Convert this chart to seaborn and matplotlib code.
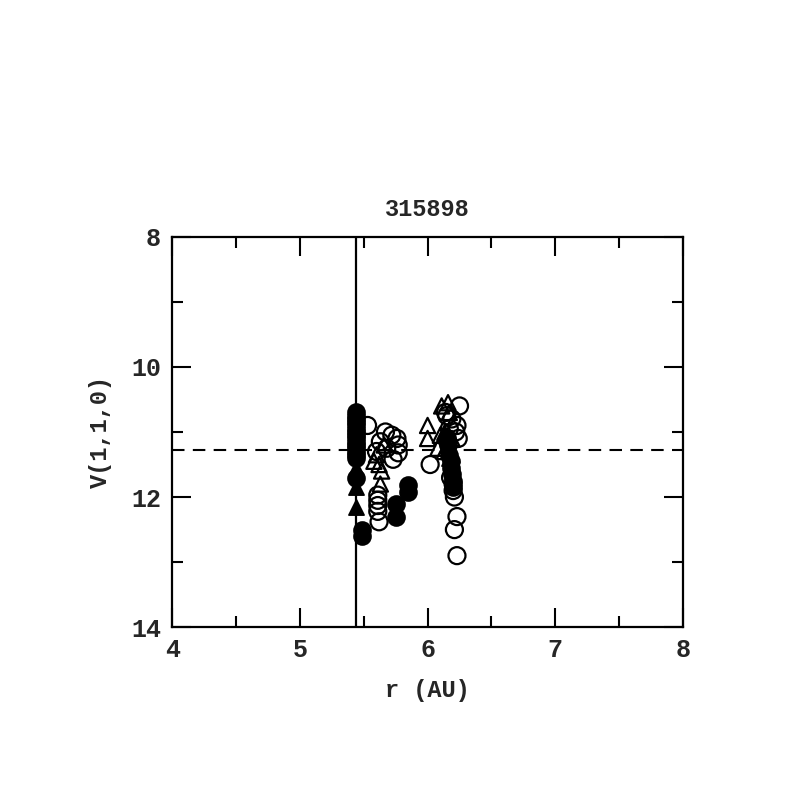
import numpy as np
import pandas as pd
import matplotlib.pyplot as plt
import seaborn as sns

# === Data ===
title = "315898"
r_line = 5.44      # vertical reference line (AU)
v_mean = 11.28     # horizontal dashed line

filled_circ_r = [5.44, 5.44, 5.44, 5.44, 5.44, 5.44, 5.44, 5.44, 5.44, 5.44, 5.44, 5.44, 5.44, 5.44,
                 5.44, 5.44, 5.49, 5.49, 5.75, 5.75, 5.85, 5.85,
                 6.15, 6.16, 6.17, 6.18, 6.18, 6.19, 6.20, 6.20]
filled_circ_v = [10.70, 10.75, 10.80, 10.85, 10.90, 10.95, 11.00, 11.05, 11.10, 11.15, 11.20, 11.25, 11.30, 11.35,
                 11.40, 11.70, 12.50, 12.60, 12.10, 12.30, 11.82, 11.92,
                 11.10, 11.20, 11.35, 11.45, 11.55, 11.65, 11.75, 11.85]

filled_tri_r = [5.44, 5.44, 5.44, 6.13, 6.15, 6.17, 6.19]
filled_tri_v = [11.55, 11.85, 12.15, 11.00, 11.20, 11.40, 11.60]

open_circ_r = [5.53, 5.67, 5.72, 5.76, 5.77, 5.77, 5.73, 5.63, 5.60, 5.68,
               5.61, 5.61, 5.61, 5.61, 5.62,
               6.02, 6.14, 6.25, 6.23, 6.22, 6.24, 6.19, 6.15, 6.17,
               6.18, 6.20, 6.20, 6.21, 6.23, 6.21, 6.23]
open_circ_v = [10.90, 11.00, 11.05, 11.10, 11.20, 11.32, 11.42, 11.15, 11.30, 11.25,
               11.97, 12.05, 12.13, 12.22, 12.38,
               11.50, 10.70, 10.60, 10.90, 11.00, 11.10, 10.80, 10.75, 10.95,
               11.70, 11.80, 11.90, 12.00, 12.30, 12.50, 12.90]

open_tri_r = [5.58, 5.60, 5.62, 5.64, 5.63, 5.66,
              6.00, 6.00, 6.10, 6.08, 6.11, 6.16, 6.17, 6.13, 6.19, 6.19]
open_tri_v = [11.45, 11.35, 11.50, 11.60, 11.80, 11.20,
              10.90, 11.10, 11.05, 11.25, 10.60, 10.55, 10.70, 11.30, 11.35, 11.10]

# === Style ===
sns.set_style("ticks")
plt.rcParams['font.family'] = ['Liberation Mono', 'DejaVu Sans']
plt.rcParams['font.weight'] = 'bold'

fig = plt.figure(figsize=(7.97, 7.97), dpi=100)
ax = fig.add_axes([0.216, 0.213, 0.641, 0.490])

ms = 150
sns.scatterplot(x=filled_circ_r, y=filled_circ_v, marker="o", s=ms, color="black",
                edgecolor="black", linewidth=1.2, ax=ax)
sns.scatterplot(x=filled_tri_r, y=filled_tri_v, marker="^", s=ms * 0.8, color="black",
                edgecolor="black", linewidth=1.2, ax=ax)
sns.scatterplot(x=open_circ_r, y=open_circ_v, marker="o", s=ms, facecolor="none",
                edgecolor="black", linewidth=1.6, ax=ax)
sns.scatterplot(x=open_tri_r, y=open_tri_v, marker="^", s=ms * 0.8, facecolor="none",
                edgecolor="black", linewidth=1.6, ax=ax)

ax.axvline(r_line, color="black", lw=1.6)
ax.axhline(v_mean, color="black", lw=1.5, ls=(0, (6, 4)))

ax.set_xlim(4, 8)
ax.set_ylim(14, 8)
ax.set_xticks([4, 5, 6, 7, 8])
ax.set_xticks([4.5, 5.5, 6.5, 7.5], minor=True)
ax.set_yticks([8, 10, 12, 14])
ax.set_yticks([9, 11, 13], minor=True)

ax.tick_params(which="both", direction="in", top=True, right=True, width=1.5, color="black",
               labelsize=18, pad=8)
ax.tick_params(which="major", length=14)
ax.tick_params(which="minor", length=8)
for sp in ax.spines.values():
    sp.set_linewidth(1.6)
    sp.set_color("black")

ax.set_xlabel("r (AU)", fontsize=17, fontweight="bold", labelpad=12)
ax.set_ylabel("V(1,1,0)", fontsize=17, fontweight="bold", labelpad=14)
ax.set_title(title, fontsize=17, fontweight="bold", pad=15)

fig.savefig("out.png", dpi=100, facecolor="white")
